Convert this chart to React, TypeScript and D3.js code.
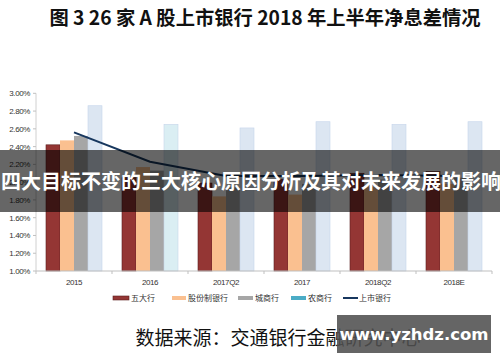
import React from "react";
import * as d3 from "d3";

const categories = ["2015", "2016", "2017Q2", "2017", "2018Q2", "2018E"];
const seriesNames = ["五大行", "股份制银行", "城商行", "农商行"];
const bigFive = [2.42, 2.05, 1.99, 2.03, 2.1, 2.12];
const jointStock = [2.47, 2.17, 1.84, 1.86, 1.95, 1.98];
const cityBanks = [2.52, 2.13, 1.94, 1.98, 2.03, 2.05];
const ruralBanks = [2.86, 2.65, 2.61, 2.68, 2.65, 2.68];
const listedBanks = [2.56, 2.23, 2.07, 2.07, 2.08, 2.07];
const yTicks = [1.0, 1.2, 1.4, 1.6, 1.8, 2.0, 2.2, 2.4, 2.6, 2.8, 3.0];
const barFills = ["#943634", "#FAC090", "#A6A6A6", "#DCE6F2"];
const barStrokes = ["#5a1f1e", "none", "none", "#C5D5EA"];
const legendFills = ["#943634", "#FAC090", "#A6A6A6", "#4BACC6"];
const lineName = "上市银行";
const title = "图 3 26 家 A 股上市银行 2018 年上半年净息差情况";
const banner = "四大目标不变的三大核心原因分析及其对未来发展的影响";
const source = "数据来源：交通银行金融研究中心";
const watermark = "www.yzhdz.com";

export default function App() {
  const W = 500, H = 362;
  const left = 36, right = 492, top = 93.3, bottom = 271;
  const x = d3.scaleBand<string>().domain(categories).range([left, right]).paddingInner(0).paddingOuter(0);
  const inner = d3.scaleBand<string>().domain(seriesNames).range([0, 56]);
  const groupOffset = (x.bandwidth() - 56) / 2;
  const y = d3.scaleLinear().domain([1, 3]).range([bottom, top]);
  const series = [bigFive, jointStock, cityBanks, ruralBanks];
  const line = d3.line<number>().x((_, i) => (x(categories[i]) as number) + x.bandwidth() / 2).y((d) => y(d));
  const font = "'Liberation Sans', Arial, sans-serif";
  const cjk = "'Noto Sans CJK SC', sans-serif";

  const legendItems = [
    { name: "五大行", x: 113, w: 16 },
    { name: "股份制银行", x: 172, w: 14 },
    { name: "城商行", x: 238, w: 15 },
    { name: "农商行", x: 291, w: 15 },
  ];

  return (
    <svg width={W} height={H} style={{ position: "absolute", left: 0, top: 0, background: "#fff" }}>
      <text x={265} y={25} textAnchor="middle" fontFamily={cjk} fontWeight={700} fontSize={19.3} fill="#111">{title}</text>

      {/* y axis */}
      <line x1={left} x2={left} y1={top} y2={bottom} stroke="#D0D0D0" strokeWidth={1} />
      {yTicks.map((t) => (
        <g key={t}>
          <line x1={left - 3} x2={left} y1={y(t)} y2={y(t)} stroke="#C0C0C0" />
          <text x={30} y={y(t) + 3} textAnchor="end" fontFamily={font} fontSize={8} fill="#333" letterSpacing={-0.4}>
            {t.toFixed(2) + "%"}
          </text>
        </g>
      ))}

      {/* bars */}
      {categories.map((c, ci) =>
        series.map((s, si) => {
          const bx = (x(c) as number) + groupOffset + (inner(seriesNames[si]) as number);
          return (
            <rect key={c + si} x={bx} y={y(s[ci])} width={inner.bandwidth()} height={bottom - y(s[ci])}
              fill={si === 3 && c === "2016" ? "#DAEEF3" : barFills[si]} stroke={barStrokes[si]} strokeWidth={0.6} />
          );
        })
      )}

      {/* line */}
      <path d={line(listedBanks) || ""} fill="none" stroke="#17375E" strokeWidth={2} />

      {/* x axis */}
      <line x1={left} x2={right} y1={bottom} y2={bottom} stroke="#BFBFBF" />
      {categories.map((c, i) => (
        <g key={c}>
          <line x1={(x(c) as number) + x.bandwidth()} x2={(x(c) as number) + x.bandwidth()} y1={bottom} y2={bottom + 3} stroke="#BFBFBF" />
          {i === 0 && <line x1={left} x2={left} y1={bottom} y2={bottom + 3} stroke="#BFBFBF" />}
          <text x={(x(c) as number) + x.bandwidth() / 2} y={285} textAnchor="middle" fontFamily={font} fontSize={8} fill="#333" letterSpacing={-0.4}>{c}</text>
        </g>
      ))}

      {/* legend */}
      {legendItems.map((it, i) => (
        <g key={it.name}>
          <rect x={it.x} y={296} width={it.w} height={4} fill={legendFills[i]} stroke={i === 0 ? "#5a1f1e" : "none"} strokeWidth={0.6} />
          <text x={it.x + it.w + 2} y={301} fontFamily={cjk} fontSize={8} fill="#333">{it.name}</text>
        </g>
      ))}
      <line x1={343} x2={358} y1={298} y2={298} stroke="#17375E" strokeWidth={2} />
      <text x={359} y={301} fontFamily={cjk} fontSize={8} fill="#333">{lineName}</text>

      {/* source */}
      <text x={278} y={345} textAnchor="middle" fontFamily={cjk} fontSize={19} fill="#111">{source}</text>

      {/* banner overlay */}
      <rect x={0} y={150} width={500} height={62} fill="rgba(0,0,0,0.6)" />
      <text x={251} y={189} textAnchor="middle" fontFamily={cjk} fontWeight={700} fontSize={20} fill="#fff">{banner}</text>

      {/* watermark */}
      <rect x={337} y={315} width={154} height={38} fill="rgba(80,80,80,0.88)" />
      <text x={414} y={340} textAnchor="middle" fontFamily="'DejaVu Sans', sans-serif" fontWeight={700} fontSize={16.5} fill="#fff">{watermark}</text>
    </svg>
  );
}
